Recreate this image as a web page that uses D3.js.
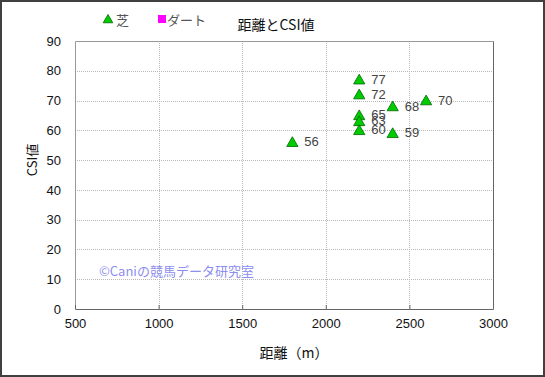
<!DOCTYPE html>
<html>
<head>
<meta charset="utf-8">
<script src="https://cdn.jsdelivr.net/npm/d3@7"></script>
<style>
  body { margin: 0; background: #fff; }
  svg { display: block; font-family: "Liberation Sans", Arial, "Noto Sans CJK JP", sans-serif; }
</style>
</head>
<body>
<div id="chart"></div>
<script>
// data
var distances = [1800, 2200, 2200, 2200, 2200, 2200, 2400, 2400, 2600];
var csiValues = [56, 77, 72, 65, 63, 60, 68, 59, 70];
var xTicks = [500, 1000, 1500, 2000, 2500, 3000];
var yTicks = [0, 10, 20, 30, 40, 50, 60, 70, 80, 90];
var legendNames = ["芝", "ダート"];

var W = 545, H = 377;
var margin = {top: 41, right: 52, bottom: 68, left: 75};
var w = W - margin.left - margin.right;
var h = H - margin.top - margin.bottom;

var svg = d3.select("#chart").append("svg")
  .attr("width", W)
  .attr("height", H);

// outer border
svg.append("rect")
  .attr("x", 1).attr("y", 1)
  .attr("width", W - 2).attr("height", H - 2)
  .attr("fill", "#fff")
  .attr("stroke", "#404040")
  .attr("stroke-width", 2);

var g = svg.append("g")
  .attr("transform", "translate(" + margin.left + "," + margin.top + ")");

var x = d3.scaleLinear().domain([500, 3000]).range([0, w]);
var y = d3.scaleLinear().domain([0, 90]).range([h, 0]);

//grid lines
g.selectAll(".vgrid")
  .data(xTicks.slice(1, -1))
  .enter().append("line")
  .attr("x1", function(d) { return Math.round(x(d)) + 0.5; })
  .attr("x2", function(d) { return Math.round(x(d)) + 0.5; })
  .attr("y1", 0).attr("y2", h)
  .attr("stroke", "#b8b8b8")
  .attr("stroke-dasharray", "1,1");

g.selectAll(".hgrid")
  .data(yTicks.slice(1, -1))
  .enter().append("line")
  .attr("y1", function(d) { return Math.round(y(d)) + 0.5; })
  .attr("y2", function(d) { return Math.round(y(d)) + 0.5; })
  .attr("x1", 0).attr("x2", w)
  .attr("stroke", "#b8b8b8")
  .attr("stroke-dasharray", "1,1");

// frame
g.append("path")
  .attr("d", "M0.5," + (h + 0.5) + "V0.5H" + (w + 0.5))
  .attr("fill", "none").attr("stroke", "#999");
g.append("path")
  .attr("d", "M0.5," + (h + 0.5) + "H" + (w + 0.5) + "V0.5")
  .attr("fill", "none").attr("stroke", "#666");

// axes
var xAxis = d3.axisBottom(x).tickValues(xTicks).tickFormat(d3.format("d"))
  .tickSize(-4).tickPadding(10);
var gx = g.append("g")
  .attr("transform", "translate(0," + h + ")")
  .call(xAxis);
gx.select(".domain").remove();
gx.selectAll("line").attr("stroke", "#666");
gx.selectAll("text").attr("font-size", 13).attr("fill", "#111")
  .attr("font-family", "'Liberation Sans', Arial, sans-serif");

var yAxis = d3.axisLeft(y).tickValues(yTicks).tickSize(0).tickPadding(14);
var gy = g.append("g").call(yAxis);
gy.select(".domain").remove();
gy.selectAll("text").attr("font-size", 13).attr("fill", "#111")
  .attr("font-family", "'Liberation Sans', Arial, sans-serif");

// points
var tri = d3.symbol().type(d3.symbolTriangle).size(55);
g.selectAll(".pt")
  .data(distances)
  .enter().append("path")
  .attr("d", tri)
  .attr("transform", function(d, i) {
    return "translate(" + x(d) + "," + (y(csiValues[i]) + 1) + ")";
  })
  .attr("fill", "#00cc00")
  .attr("stroke", "#006600")
  .attr("stroke-width", 0.8);

g.selectAll(".lbl")
  .data(distances)
  .enter().append("text")
  .attr("x", function(d) { return x(d) + 12; })
  .attr("y", function(d, i) { return y(csiValues[i]) + 4; })
  .attr("font-size", 13)
  .attr("fill", "#444")
  .text(function(d, i) { return csiValues[i]; });

// watermark
svg.append("text")
  .attr("x", 99).attr("y", 276)
  .attr("font-size", 13)
  .attr("font-family", "'Noto Sans CJK JP', sans-serif")
  .attr("fill", "#8e8ef0")
  .text("©Caniの競馬データ研究室");

// title
svg.append("text")
  .attr("x", 276).attr("y", 30)
  .attr("text-anchor", "middle")
  .attr("font-size", 14)
  .attr("font-family", "'Noto Sans CJK JP', sans-serif")
  .attr("fill", "#111")
  .text("距離とCSI値");

// legend
svg.append("path")
  .attr("d", d3.symbol().type(d3.symbolTriangle).size(40))
  .attr("transform", "translate(108,20)")
  .attr("fill", "#00cc00").attr("stroke", "#006600").attr("stroke-width", 0.8);
svg.append("text")
  .attr("x", 116).attr("y", 25)
  .attr("font-size", 13)
  .attr("font-family", "'Noto Sans CJK JP', sans-serif")
  .attr("fill", "#555")
  .text(legendNames[0]);
svg.append("rect")
  .attr("x", 158).attr("y", 15)
  .attr("width", 8).attr("height", 8)
  .attr("fill", "#ff00ff");
svg.append("text")
  .attr("x", 167).attr("y", 25)
  .attr("font-size", 13)
  .attr("font-family", "'Noto Sans CJK JP', sans-serif")
  .attr("fill", "#555")
  .text(legendNames[1]);

// axis labels
svg.append("text")
  .attr("x", 294).attr("y", 358)
  .attr("text-anchor", "middle")
  .attr("font-size", 14)
  .attr("font-family", "'Noto Sans CJK JP', sans-serif")
  .attr("fill", "#111")
  .text("距離（m）");

svg.append("text")
  .attr("transform", "translate(37,160) rotate(-90)")
  .attr("text-anchor", "middle")
  .attr("font-size", 13)
  .attr("font-family", "'Noto Sans CJK JP', sans-serif")
  .attr("fill", "#111")
  .text("CSI値");
</script>
</body>
</html>
